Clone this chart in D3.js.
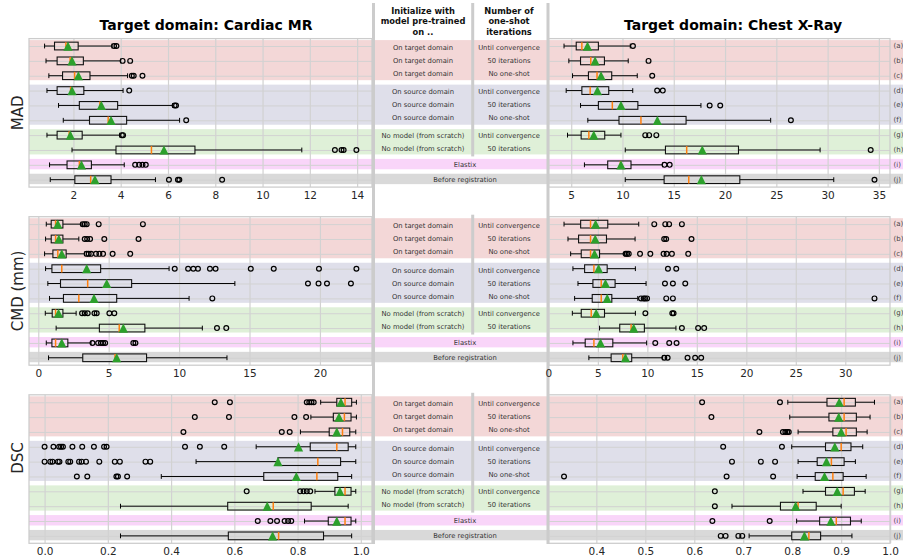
<!DOCTYPE html>
<html>
<head>
<meta charset="utf-8">
<script src="https://cdn.jsdelivr.net/npm/d3@7"></script>
<style>
  body { margin: 0; background: #fff; }
  text { font-family: "DejaVu Sans", sans-serif; }
</style>
</head>
<body>
<svg id="chart" width="903" height="559"></svg>
<script>
// ---- data ----
const rowLabels = ['(a)', '(b)', '(c)', '(d)', '(e)', '(f)', '(g)', '(h)', '(i)', '(j)'];
const initLabels = ['On target domain', 'On target domain', 'On target domain',
                    'On source domain', 'On source domain', 'On source domain',
                    'No model (from scratch)', 'No model (from scratch)'];
const iterLabels = ['Until convergence', '50 iterations', 'No one-shot',
                    'Until convergence', '50 iterations', 'No one-shot',
                    'Until convergence', '50 iterations'];
const spanLabels = ['Elastix', 'Before registration'];
const groupRows = [[0, 2], [3, 5], [6, 7], [8, 8], [9, 9]];
const groupColors = ['#f3d7d7', '#dfdfea', '#dff0d8', '#f9d5f9', '#d9d9d9'];
const metricNames = ['MAD', 'CMD (mm)', 'DSC'];
const domainNames = ['Target domain: Cardiac MR', 'Target domain: Chest X-Ray'];

// box stats per row: [low whisker, q1, median, q3, high whisker]
const madCardiacBox = [[0.78,1.2,1.68,2.2,3.63],[0.84,1.31,1.86,2.42,4.0],[0.96,1.54,2.05,2.7,4.29],
  [0.88,1.31,1.88,2.44,4.1],[1.37,2.25,3.12,3.87,6.2],[1.57,2.68,3.47,4.25,6.49],
  [0.88,1.31,1.82,2.37,3.96],[1.94,3.8,5.3,7.14,11.66],[0.99,1.73,2.25,2.76,4.15],[1.02,2.06,2.73,3.59,5.47]];
const madCardiacMean = [1.77,1.94,2.21,1.94,3.18,3.59,1.87,5.83,2.34,2.91];
const madCardiacOut = [[3.72,3.82],[4.08,4.4],[4.47,4.55,4.92],[4.36],[6.28,6.34],[6.77],[4.05,4.1],
  [13.06,13.34,13.43,13.97],[4.61,4.78,4.92,5.06],[6.04,6.42,6.48,8.29]];

const madChestBox = [[4.3,5.49,6.04,7.65,10.76],[4.77,5.91,6.91,8.24,10.56],[5.13,6.68,7.52,8.95,11.44],
  [4.51,6.04,6.85,8.66,11.0],[5.91,7.65,9.01,11.5,17.65],[6.62,9.66,11.8,16.2,24.45],
  [4.64,5.97,6.72,8.27,9.85],[10.27,14.19,16.26,21.31,29.27],[6.29,8.56,9.8,10.83,13.9],[10.27,14.06,16.46,21.44,30.6]];
const madChestMean = [6.59,7.33,7.91,7.56,9.85,13.4,7.2,17.78,9.85,17.69];
const madChestOut = [[11.02],[12.54],[12.9],[13.38,13.93],[18.5,19.53],[26.42],[12.22,12.6,13.3],
  [34.2],[14.1,14.6],[34.57]];

const cmdCardiacBox = [[0.57,0.92,1.23,1.75,3.04],[0.52,0.92,1.23,1.75,2.88],[0.45,1.04,1.39,1.98,3.28],
  [0.52,0.97,1.67,4.43,9.29],[0.68,1.58,3.51,6.63,13.96],[0.8,1.79,2.88,5.57,10.71],
  [0.5,0.99,1.23,1.75,2.69],[1.27,4.34,5.75,7.57,11.65],[0.57,0.97,1.23,2.1,3.75],[0.73,3.16,5.45,7.69,13.4]];
const cmdCardiacMean = [1.39,1.46,1.67,3.44,4.86,3.96,1.44,6.04,1.67,5.57];
const cmdCardiacOut = [[3.16,3.3,3.44,4.29,7.43],[3.3,3.47,3.68,4.69,7.12],[3.44,3.58,3.75,4.1,4.34,4.6,5.28,6.53],
  [9.69,10.64,11.01,11.34,12.19,12.59,15.09,16.72,19.93,22.59],[19.15,19.9,20.5,22.2],[12.36],
  [3.11,3.3,3.51,3.99,4.15,5.05,5.4],[12.69,13.35],[3.85,4.25,4.45,4.6,4.75,6.75,6.9],[]];

const cmdChestBox = [[1.58,3.26,4.26,6.0,9.13],[1.98,3.05,4.26,5.87,8.76],[2.25,3.32,4.26,5.17,7.68],
  [2.48,3.66,4.6,5.94,8.79],[2.99,4.5,5.34,6.74,9.87],[2.65,4.43,5.34,6.41,9.03],
  [2.42,3.32,4.33,5.67,8.79],[5.17,7.21,8.36,9.7,12.89],[2.48,3.72,4.6,6.51,9.93],[4.09,6.34,7.52,8.42,11.54]];
const cmdChestMean = [4.77,4.73,4.66,5.07,5.77,5.94,4.83,8.62,5.27,7.79];
const cmdChestOut = [[10.7,11.81,12.2,13.49],[11.7,11.9,14.46],[7.8,7.95,8.12,9.26,10.3,11.64,11.95,12.48,14.13],
  [12.08,12.92],[11.78,12.58,13.83],[9.36,9.63,9.77,9.97,11.91,12.58,32.95],[9.8,12.52,12.65],
  [13.49,15.13,15.74],[10.8,12.21,12.95],[11.71,12.05,14.06,14.83,15.44]];

const dscCardiacBox = [[0.873,0.924,0.95,0.971,0.986],[0.842,0.913,0.948,0.969,0.986],[0.809,0.9,0.942,0.965,0.984],
  [0.669,0.84,0.924,0.96,0.984],[0.479,0.738,0.864,0.936,0.984],[0.369,0.693,0.861,0.927,0.971],
  [0.855,0.918,0.95,0.969,0.984],[0.24,0.579,0.723,0.843,0.96],[0.822,0.897,0.95,0.969,0.984],[0.24,0.581,0.74,0.882,0.971]];
const dscCardiacMean = [0.937,0.931,0.924,0.803,0.738,0.796,0.934,0.704,0.924,0.721];
const dscCardiacOut = [[0.538,0.586,0.829,0.837,0.844,0.851],[0.475,0.583,0.79,0.827],[0.439,0.75,0.775],
  [0.0,0.028,0.046,0.052,0.058,0.088,0.119,0.156,0.188,0.196,0.444,0.491,0.568],
  [0.0,0.018,0.025,0.042,0.047,0.075,0.081,0.109,0.117,0.131,0.173,0.222,0.238,0.319,0.334],
  [0.102,0.135,0.227,0.232,0.261],[0.639,0.808,0.819,0.829,0.84],[],[0.674,0.714,0.735,0.759,0.77,0.78],[]];

const dscChestBox = [[0.791,0.871,0.906,0.929,0.968],[0.795,0.875,0.906,0.931,0.959],[0.812,0.883,0.91,0.931,0.953],
  [0.799,0.868,0.9,0.92,0.944],[0.812,0.851,0.88,0.906,0.929],[0.81,0.847,0.883,0.904,0.951],
  [0.822,0.868,0.904,0.927,0.949],[0.677,0.776,0.812,0.849,0.9],[0.809,0.856,0.89,0.919,0.941],[0.712,0.799,0.834,0.858,0.922]];
const dscChestMean = [0.896,0.895,0.9,0.887,0.87,0.866,0.892,0.807,0.879,0.825];
const dscChestOut = [[0.616,0.775],[0.635],[0.733,0.781,0.786,0.79,0.793],[0.659,0.779],[0.677,0.736,0.765],
  [0.334,0.666,0.761],[0.642],[0.642],[0.637,0.754],[0.654,0.664,0.69,0.698]];

const madCardiacTicks = [2, 4, 6, 8, 10, 12, 14];
const madChestTicks = [5, 10, 15, 20, 25, 30, 35];
const cmdCardiacTicks = [0, 5, 10, 15, 20];
const cmdChestTicks = [0, 5, 10, 15, 20, 25, 30];
const dscCardiacTicks = [0.0, 0.2, 0.4, 0.6, 0.8, 1.0];
const dscChestTicks = [0.4, 0.5, 0.6, 0.7, 0.8, 0.9, 1.0];

// ---- layout ----
const W = 903;
const colX = [[29, 372], [548.5, 890]];
const panelTop = [38.6, 216.7, 394.8];
const panelH = 148.5;
const yLabelShift = [0, 0, -11];

const svg = d3.select('#chart');

const panels = [
  [{box: madCardiacBox, mean: madCardiacMean, out: madCardiacOut, ticks: madCardiacTicks, fmt: d3.format('d')},
   {box: madChestBox, mean: madChestMean, out: madChestOut, ticks: madChestTicks, fmt: d3.format('d')}],
  [{box: cmdCardiacBox, mean: cmdCardiacMean, out: cmdCardiacOut, ticks: cmdCardiacTicks, fmt: d3.format('d')},
   {box: cmdChestBox, mean: cmdChestMean, out: cmdChestOut, ticks: cmdChestTicks, fmt: d3.format('d')}],
  [{box: dscCardiacBox, mean: dscCardiacMean, out: dscCardiacOut, ticks: dscCardiacTicks, fmt: d3.format('.1f')},
   {box: dscChestBox, mean: dscChestMean, out: dscChestOut, ticks: dscChestTicks, fmt: d3.format('.1f')}]
];

function rowScale(s) {
  return d3.scaleLinear().domain([-0.5, 9.5]).range([panelTop[s], panelTop[s] + panelH]);
}

// coloured bands across the whole row
panelTop.forEach((top, s) => {
  const y = rowScale(s);
  svg.append('g').attr('class', 'bands')
     .selectAll('rect').data(groupRows).join('rect')
     .attr('x', colX[0][0]).attr('width', W - colX[0][0])
     .attr('y', d => y(d[0] - 0.4))
     .attr('height', d => y(d[1] + 0.3) - y(d[0] - 0.4))
     .attr('fill', (d, i) => groupColors[i]);
});

// vertical separators (under the panels so tick labels stay readable)
const sepX = [373.5, 548];
sepX.forEach(xx => {
  svg.append('line').attr('x1', xx).attr('x2', xx).attr('y1', 3).attr('y2', 544)
     .attr('stroke', '#cccccc').attr('stroke-width', 3);
});
const midX = 472.7;
panelTop.forEach((top, s) => {
  const y = rowScale(s);
  svg.append('line').attr('x1', midX).attr('x2', midX)
     .attr('y1', s === 0 ? 3 : top - 2).attr('y2', y(7.3) + 2)
     .attr('stroke', '#cccccc').attr('stroke-width', 3);
});

function drawPanel(p, s, c) {
  const [x0, x1] = colX[c];
  const top = panelTop[s], bottom = top + panelH;
  const [lo, hi] = d3.extent(p.box.flat().concat(p.out.flat()));
  const pad = (hi - lo) * 0.05;
  const x = d3.scaleLinear().domain([lo - pad, hi + pad]).range([x0, x1]);
  const y = rowScale(s);
  const g = svg.append('g').attr('class', 'panel');

  g.append('g').attr('class', 'xaxis')
   .attr('transform', `translate(0,${bottom})`)
   .call(d3.axisBottom(x).tickValues(p.ticks).tickFormat(p.fmt)
           .tickSizeInner(-panelH).tickSizeOuter(0).tickPadding(4))
   .call(a => a.select('.domain').remove())
   .call(a => a.selectAll('line').attr('stroke', '#d2d2d2').attr('stroke-width', 1.2))
   .call(a => a.selectAll('text').attr('fill', '#262626').attr('font-size', 10.5));

  g.append('g').attr('class', 'ygrid')
   .attr('transform', `translate(${x0},0)`)
   .call(d3.axisLeft(y).tickValues(d3.range(10)).tickFormat('').tickSize(-(x1 - x0)))
   .call(a => a.select('.domain').remove())
   .call(a => a.selectAll('line').attr('stroke', '#d2d2d2').attr('stroke-width', 1));

  const bh = 0.26 * (panelH / 10);
  const ch = 2.4;

  g.selectAll('.whisk-lo').data(p.box).join('line').attr('class', 'whisk-lo')
   .attr('x1', d => x(d[0])).attr('x2', d => x(d[1]))
   .attr('y1', (d, i) => y(i)).attr('y2', (d, i) => y(i))
   .attr('stroke', '#000').attr('stroke-width', 1);
  g.selectAll('.whisk-hi').data(p.box).join('line').attr('class', 'whisk-hi')
   .attr('x1', d => x(d[3])).attr('x2', d => x(d[4]))
   .attr('y1', (d, i) => y(i)).attr('y2', (d, i) => y(i))
   .attr('stroke', '#000').attr('stroke-width', 1);
  g.selectAll('.cap-lo').data(p.box).join('line').attr('class', 'cap-lo')
   .attr('x1', d => x(d[0])).attr('x2', d => x(d[0]))
   .attr('y1', (d, i) => y(i) - ch).attr('y2', (d, i) => y(i) + ch)
   .attr('stroke', '#000').attr('stroke-width', 1);
  g.selectAll('.cap-hi').data(p.box).join('line').attr('class', 'cap-hi')
   .attr('x1', d => x(d[4])).attr('x2', d => x(d[4]))
   .attr('y1', (d, i) => y(i) - ch).attr('y2', (d, i) => y(i) + ch)
   .attr('stroke', '#000').attr('stroke-width', 1);
  g.selectAll('.iqr').data(p.box).join('rect').attr('class', 'iqr')
   .attr('x', d => x(d[1])).attr('width', d => x(d[3]) - x(d[1]))
   .attr('y', (d, i) => y(i) - bh).attr('height', 2 * bh)
   .attr('fill', 'none').attr('stroke', '#111').attr('stroke-width', 1.1);
  g.selectAll('.median').data(p.box).join('line').attr('class', 'median')
   .attr('x1', d => x(d[2])).attr('x2', d => x(d[2]))
   .attr('y1', (d, i) => y(i) - bh).attr('y2', (d, i) => y(i) + bh)
   .attr('stroke', '#ff7f0e').attr('stroke-width', 1.5);

  const fliers = p.out.flatMap((vals, i) => vals.map(v => ({v, i})));
  g.selectAll('.flier').data(fliers).join('circle').attr('class', 'flier')
   .attr('cx', d => x(d.v)).attr('cy', d => y(d.i)).attr('r', 2.4)
   .attr('fill', 'none').attr('stroke', '#000').attr('stroke-width', 1.2);

  const tri = 4.6;
  g.selectAll('.mean').data(p.mean).join('path').attr('class', 'mean')
   .attr('d', `M0,${-tri}L${tri},${tri}L${-tri},${tri}Z`)
   .attr('transform', (d, i) => `translate(${x(d)},${y(i)})`)
   .attr('fill', '#2ca02c');

  g.append('rect')
   .attr('x', x0).attr('y', top).attr('width', x1 - x0).attr('height', panelH)
   .attr('fill', 'none').attr('stroke', '#cccccc').attr('stroke-width', 1.25);

  if (c === 1) {
    g.selectAll('.rowlab').data(rowLabels).join('text').attr('class', 'rowlab')
     .attr('x', x1 + 3.5).attr('y', (d, i) => y(i))
     .attr('dominant-baseline', 'central')
     .attr('font-size', 7).attr('fill', '#444')
     .text(d => d);
  }
}

panels.forEach((row, s) => row.forEach((p, c) => drawPanel(p, s, c)));

// metric labels
metricNames.forEach((name, s) => {
  svg.append('text')
     .attr('transform', `translate(22.5,${panelTop[s] + panelH / 2 + yLabelShift[s]}) rotate(-90)`)
     .attr('text-anchor', 'middle').attr('font-size', 15).attr('fill', '#262626')
     .text(name);
});

// titles
const titleX = [206, 733];
domainNames.forEach((name, c) => {
  svg.append('text').attr('x', titleX[c]).attr('y', 29.5)
     .attr('text-anchor', 'middle').attr('font-size', 14).attr('font-weight', 'bold')
     .attr('fill', '#000').text(name);
});

// table headers
const col1X = 423, col2X = 509, spanX = 465;
const head1 = ['Initialize with', 'model pre-trained', 'on ..'];
const head2 = ['Number of', 'one-shot', 'iterations'];
[[head1, col1X], [head2, col2X]].forEach(([lines, cx]) => {
  svg.append('g').selectAll('text').data(lines).join('text')
     .attr('x', cx).attr('y', (d, i) => 13.6 + i * 10.5)
     .attr('text-anchor', 'middle').attr('font-size', 8.3).attr('font-weight', 'bold')
     .attr('fill', '#111').text(d => d);
});

// table rows
panelTop.forEach((top, s) => {
  const y = rowScale(s);
  const textY = i => {
    const grp = groupRows.find(gr => i >= gr[0] && i <= gr[1]);
    const mid = (grp[0] + grp[1]) / 2;
    return y(mid) + (i - mid) * 13;
  };
  const t = svg.append('g').attr('class', 'table')
               .attr('font-size', 6.8).attr('fill', '#333').attr('text-anchor', 'middle');
  t.selectAll('.c1').data(initLabels).join('text').attr('class', 'c1')
   .attr('x', col1X).attr('y', (d, i) => textY(i)).attr('dominant-baseline', 'central').text(d => d);
  t.selectAll('.c2').data(iterLabels).join('text').attr('class', 'c2')
   .attr('x', col2X).attr('y', (d, i) => textY(i)).attr('dominant-baseline', 'central').text(d => d);
  t.selectAll('.sp').data(spanLabels).join('text').attr('class', 'sp')
   .attr('x', spanX).attr('y', (d, i) => y(8 + i)).attr('dominant-baseline', 'central').text(d => d);
});
</script>
</body>
</html>
